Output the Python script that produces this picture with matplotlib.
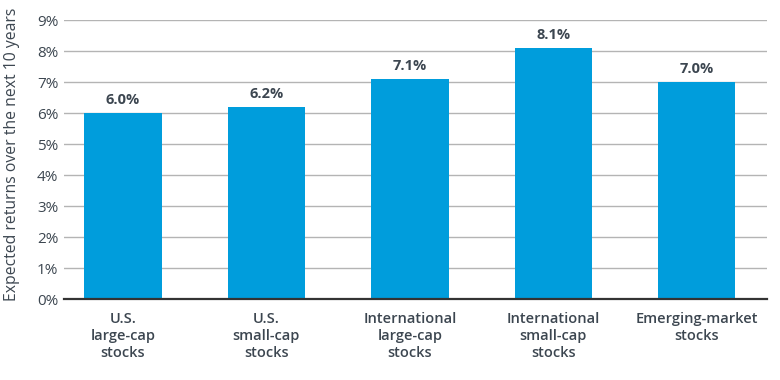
import numpy as np
import matplotlib
matplotlib.use('Agg')
import matplotlib.pyplot as plt

categories = ['U.S.\nlarge-cap\nstocks', 'U.S.\nsmall-cap\nstocks', 'International\nlarge-cap\nstocks',
              'International\nsmall-cap\nstocks', 'Emerging-market\nstocks']
returns = [6.0, 6.2, 7.1, 8.1, 7.0]
yticks = list(range(0, 10))

plt.rcParams['font.family'] = ['Open Sans', 'DejaVu Sans']
text_col = '#3c4650'
bar_col = '#009ddc'

fig = plt.figure(figsize=(7.8, 3.8), dpi=100)
ax = fig.add_axes([0.082, 0.213, 0.901, 0.734])

x = np.arange(len(categories))
ax.set_axisbelow(True)
ax.yaxis.grid(True, color='#b4b4b4', linewidth=1)
bars = ax.bar(x, returns, width=0.54, color=bar_col, zorder=2)
for xi, v in zip(x, returns):
    ax.text(xi, v + 0.2, f'{v:.1f}%', ha='center', va='bottom', fontsize=10.5,
            fontweight='bold', color=text_col)

ax.set_xlim(-0.411, 4.488)
ax.set_ylim(0, 9)
ax.set_yticks(yticks)
ax.set_yticklabels([f'{t}%' for t in yticks], fontsize=11, color=text_col)
ax.set_xticks(x)
ax.set_xticklabels(categories, fontsize=10.5, color=text_col, fontweight='semibold', linespacing=1.3)
ax.tick_params(axis='both', length=0)
ax.tick_params(axis='x', pad=9)
ax.tick_params(axis='y', pad=4)
for s in ['top', 'right', 'left']:
    ax.spines[s].set_visible(False)
ax.spines['bottom'].set_color('#333333')
ax.spines['bottom'].set_linewidth(1.6)
fig.text(0.016, 0.595, 'Expected returns over the next 10 years', rotation=90, ha='center', va='center',
         fontsize=11.3, color=text_col)

fig.savefig('out.png', dpi=100)
